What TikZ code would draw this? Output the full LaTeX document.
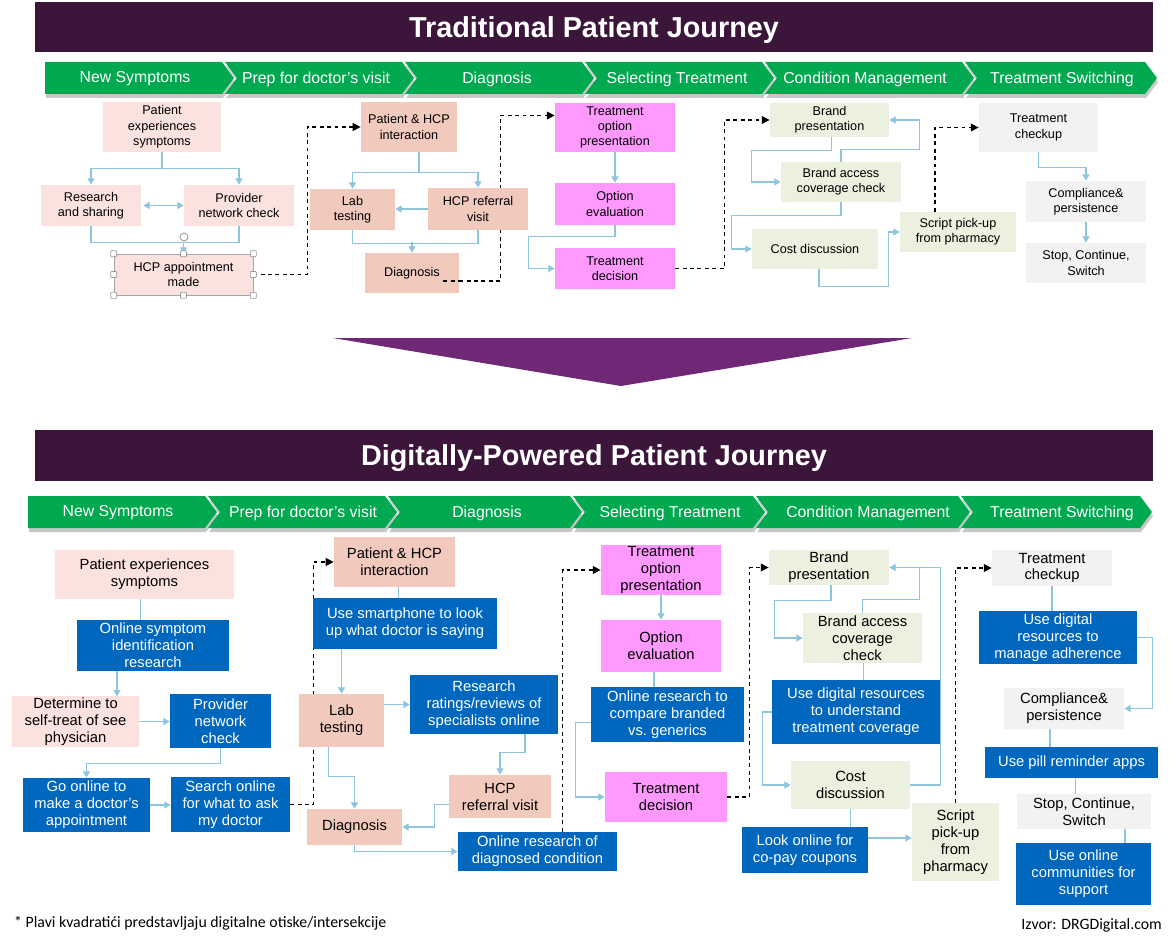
\documentclass[tikz,border=0pt]{standalone}
\usepackage{fontspec}
\setmainfont{Liberation Sans}
\newfontfamily\notefont{Carlito}
\usetikzlibrary{arrows.meta,calc,backgrounds}
\definecolor{barpurple}{RGB}{60,22,58}
\definecolor{arrowpurple}{RGB}{112,40,118}
\definecolor{stepgreen}{RGB}{0,168,80}
\definecolor{pinklight}{RGB}{251,226,223}
\definecolor{salmon}{RGB}{241,201,189}
\definecolor{magentabox}{RGB}{255,153,255}
\definecolor{greenlight}{RGB}{235,241,222}
\definecolor{graylight}{RGB}{242,242,242}
\definecolor{digiblue}{RGB}{0,103,190}
\definecolor{linkblue}{RGB}{142,196,222}
\newcommand{\pxu}{0.02cm}
\begin{document}
\begin{tikzpicture}[x=0.02cm, y=-0.02cm,
    box/.style={rectangle, inner sep=0pt, align=center, text=black},
    tsize/.style={font=\fontsize{7.2}{8.7}\selectfont},
    bsize/.style={font=\fontsize{8.4}{9.6}\selectfont},
    dims/.style 2 args={minimum width=#1*\pxu, minimum height=#2*\pxu},
    pinkbox/.style={box, fill=pinklight},
    salmonbox/.style={box, fill=salmon},
    magbox/.style={box, fill=magentabox},
    greenbox/.style={box, fill=greenlight},
    graybox/.style={box, fill=graylight},
    bluebox/.style={box, fill=digiblue, text=white},
    steplab/.style={text=white, font=\fontsize{9}{10}\selectfont},
    titletext/.style={text=white, font=\fontsize{16.4}{18}\selectfont\bfseries},
    notetext/.style={font=\notefont\fontsize{9}{10.8}\selectfont},
    link/.style={draw=linkblue, line width=0.75pt},
    conn/.style={link, -{Triangle[width=4pt,length=3.6pt]}},
    biconn/.style={link, {Triangle[width=4pt,length=3.6pt]}-{Triangle[width=4pt,length=3.6pt]}},
    jump/.style={draw=black, line width=0.7pt, dash pattern=on 2.2pt off 2pt, -{Triangle[width=4.5pt,length=4.5pt]}}]
    \useasboundingbox (0,0) rectangle (1176,939);
    % title bars and the arrow between them
    \fill[barpurple] (35,2) rectangle (1153,52);
    \node[titletext] (title1) at (594,30) {Traditional Patient Journey};
    \fill[arrowpurple] (333,338) -- (912,338) -- (621,386) -- cycle;
    \fill[barpurple] (35,430) rectangle (1153,481);
    \node[titletext] (title2) at (594,458) {Digitally-Powered Patient Journey};
    % phase chevrons
    \foreach \xa/\xb/\dn/\lx/\lab [count=\i] in {45/222/0/135/New Symptoms, 225/402/12/316/Prep for doctor's visit, 405/582/12/497/Diagnosis, 585/762/12/677/Selecting Treatment, 765/962/12/865/Condition Management, 965/1145/12/1062/Treatment Switching}{
        \fill[black, opacity=0.22, shift={(1,4)}] (\xa,62) -- (\xb,62) -- (\xb+12,78) -- (\xb,94) -- (\xa,94) -- (\xa+\dn,78) -- cycle;
        \fill[stepgreen] (\xa,62) -- (\xb,62) -- (\xb+12,78) -- (\xb,94) -- (\xa,94) -- (\xa+\dn,78) -- cycle;
        \node[steplab] (ph1-\i) at (\lx,79) {\lab};
    }
    \foreach \xa/\xb/\dn/\lx/\lab [count=\i] in {28/205/0/118/New Symptoms, 208/385/12/303/Prep for doctor's visit, 388/570/12/487/Diagnosis, 573/753/12/670/Selecting Treatment, 756/958/12/868/Condition Management, 961/1140/12/1062/Treatment Switching}{
        \fill[black, opacity=0.22, shift={(1,4)}] (\xa,496) -- (\xb,496) -- (\xb+12,512) -- (\xb,528) -- (\xa,528) -- (\xa+\dn,512) -- cycle;
        \fill[stepgreen] (\xa,496) -- (\xb,496) -- (\xb+12,512) -- (\xb,528) -- (\xa,528) -- (\xa+\dn,512) -- cycle;
        \node[steplab] (ph2-\i) at (\lx,513) {\lab};
    }
    % traditional journey
    \node[pinkbox, tsize, dims={118}{50}] (t1) at (162,127) {Patient\\experiences\\symptoms};
    \node[pinkbox, tsize, dims={100}{41}] (t2) at (91,205.5) {Research\\and sharing};
    \node[pinkbox, tsize, dims={110}{41}] (t3) at (239,205.5) {Provider\\network check};
    \node[pinkbox, tsize, dims={139}{41}, draw=gray!70, line width=0.4pt] (t4) at (183.5,274.5) {HCP appointment\\made};
    \node[salmonbox, tsize, dims={96}{50}] (t5) at (409,127) {Patient \& HCP\\interaction};
    \node[salmonbox, tsize, dims={85}{41}] (t6) at (352.5,209.5) {Lab\\testing};
    \node[salmonbox, tsize, dims={100}{42}] (t7) at (478,209) {HCP referral\\visit};
    \node[salmonbox, tsize, dims={94}{40}] (t8) at (412,273) {Diagnosis};
    \node[magbox, tsize, dims={120}{49}] (t9) at (615,127.5) {Treatment\\option\\presentation};
    \node[magbox, tsize, dims={120}{42}] (t10) at (615,204) {Option\\evaluation};
    \node[magbox, tsize, dims={120}{41}] (t11) at (615,268.5) {Treatment\\decision};
    \node[greenbox, tsize, dims={119}{34}] (t12) at (829.5,120) {Brand\\presentation};
    \node[greenbox, tsize, dims={120}{40}] (t13) at (841,182) {Brand access\\coverage check};
    \node[greenbox, tsize, dims={126}{40}] (t14) at (815,249) {Cost discussion};
    \node[greenbox, tsize, dims={116}{40}] (t15) at (958,232) {Script pick-up\\from pharmacy};
    \node[graybox, tsize, dims={119}{49}] (t16) at (1038.5,127.5) {Treatment\\checkup};
    \node[graybox, tsize, dims={120}{41}] (t17) at (1086,201.5) {Compliance\&\\persistence};
    \node[graybox, tsize, dims={120}{40}] (t18) at (1086,263) {Stop, Continue,\\Switch};
    % selection handles on t4
    \foreach \a in {north west,north,north east,west,east,south west,south,south east}
        \filldraw[fill=white, draw=gray!80, line width=0.4pt, rounded corners=0.5pt] (t4.\a) ++(-3,-3) rectangle ++(6,6);
    \draw[gray!80, line width=0.5pt] (184,237) circle (0.08cm);
    \draw[black, line width=0.7pt, dash pattern=on 2.2pt off 2pt] (t8.east) ++(-16,8) -- ++(16,0);
    % digitally-powered journey
    \node[pinkbox, bsize, dims={179}{49}] (b1) at (144.5,574.5) {Patient experiences\\symptoms};
    \node[bluebox, bsize, dims={152}{51}] (b2) at (153,645.5) {Online symptom\\identification\\research};
    \node[pinkbox, bsize, dims={127}{51}] (b3) at (75.5,721.5) {Determine to\\self-treat of see\\physician};
    \node[bluebox, bsize, dims={101}{54}] (b4) at (220.5,721) {Provider\\network\\check};
    \node[bluebox, bsize, dims={127}{54}] (b5) at (86.5,805) {Go online to\\make a doctor's\\appointment};
    \node[bluebox, bsize, dims={119}{55}] (b6) at (230.5,804.5) {Search online\\for what to ask\\my doctor};
    \node[salmonbox, bsize, dims={121}{50}] (b7) at (394.5,562) {Patient \& HCP\\interaction};
    \node[bluebox, bsize, dims={184}{51}] (b8) at (405,623.5) {Use smartphone to look\\up what doctor is saying};
    \node[salmonbox, bsize, dims={85}{53}] (b9) at (341.5,720.5) {Lab\\testing};
    \node[bluebox, bsize, dims={148}{59}] (b10) at (484,704.5) {Research\\ratings/reviews of\\specialists online};
    \node[salmonbox, bsize, dims={102}{43}] (b11) at (500,796.5) {HCP\\referral visit};
    \node[salmonbox, bsize, dims={95}{36}] (b12) at (354.5,827) {Diagnosis};
    \node[bluebox, bsize, dims={159}{39}] (b13) at (537.5,851.5) {Online research of\\diagnosed condition};
    \node[magbox, bsize, dims={120}{50}] (b14) at (661,570) {Treatment\\option\\presentation};
    \node[magbox, bsize, dims={120}{52}] (b15) at (661,646) {Option\\evaluation};
    \node[bluebox, bsize, dims={153}{55}] (b16) at (667.5,714.5) {Online research to\\compare branded\\vs.\ generics};
    \node[magbox, bsize, dims={122}{50}] (b17) at (666,797) {Treatment\\decision};
    \node[greenbox, bsize, dims={120}{35}] (b18) at (829,567.5) {Brand\\presentation};
    \node[greenbox, bsize, dims={119}{50}] (b19) at (862.5,638) {Brand access\\coverage\\check};
    \node[bluebox, bsize, dims={168}{64}] (b20) at (856,712) {Use digital resources\\to understand\\treatment coverage};
    \node[greenbox, bsize, dims={119}{48}] (b21) at (850.5,785) {Cost\\discussion};
    \node[bluebox, bsize, dims={126}{46}] (b22) at (805,850) {Look online for\\co-pay coupons};
    \node[greenbox, bsize, dims={87}{78}] (b23) at (955.5,842) {Script\\pick-up\\from\\pharmacy};
    \node[graybox, bsize, dims={120}{36}] (b24) at (1052,568) {Treatment\\checkup};
    \node[bluebox, bsize, dims={158}{53}] (b25) at (1058,637.5) {Use digital\\resources to\\manage adherence};
    \node[graybox, bsize, dims={120}{41}] (b26) at (1064,708.5) {Compliance\&\\persistence};
    \node[bluebox, bsize, dims={173}{31}] (b27) at (1071.5,762.5) {Use pill reminder apps};
    \node[graybox, bsize, dims={134}{35}] (b28) at (1084,811.5) {Stop, Continue,\\Switch};
    \node[bluebox, bsize, dims={135}{62}] (b29) at (1083.5,874) {Use online\\communities for\\support};
    % footer
    \node[anchor=west, notetext] (note) at (8,923) {* Plavi kvadratići predstavljaju digitalne otiske/intersekcije};
    \node[anchor=east, notetext] (source) at (1168,925) {Izvor: DRGDigital.com};
    % connectors, behind the boxes
    \begin{scope}[on background layer]
        \draw[conn] (t1.south) -- ++(0,16) -| (t2.north);
        \draw[conn] (t1.south) -- ++(0,16) -| (t3.north);
        \draw[biconn] (t2.east) ++(2,0) -- (t3.west);
        \draw[link] (t2.south) -- ++(0,16) -| (t3.south);
        \draw[conn] (t4.north) ++(0,-12) -- (t4.north);
        \draw[jump] (t4.east) -- ++(54,0) |- (t5.west);
        \draw[conn] (t5.south) ++(10,0) -- ++(0,20) -| (t6.north);
        \draw[conn] (t5.south) ++(10,0) -- ++(0,20) -| (t7.north);
        \draw[conn] (t7.west) -- (t7.west -| t6.east);
        \draw[link] (t6.south) -- ++(0,13) -| (t7.south);
        \draw[conn] (t8.north) ++(0,-11) -- (t8.north);
        \draw[jump] (t8.east) ++(0,8) -- ++(41,0) |- ($(t9.west)+(0,-12)$);
        \draw[conn] (t9.south) -- (t10.north);
        \draw[conn] (t10.south) -- ++(0,11) -| ($(t11.west)+(-26,0)$) -- (t11.west);
        \draw[jump] (t11.east) -- ++(49,0) |- (t12.west);
        \draw[conn] (t12.south) ++(2,0) -- ++(0,13) -| ($(t13.west)+(-29,0)$) -- (t13.west);
        \draw[conn] (t13.north) -- ++(0,-12) -| ($(t12.east)+(30,0)$) -- (t12.east);
        \draw[conn] (t13.south) -- ++(0,13) -| ($(t14.west)+(-20,0)$) -- (t14.west);
        \draw[conn] (t14.south) ++(4,0) -- ++(0,17) -| ($(t15.west)+(-11,0)$) -- (t15.west);
        \draw[jump] (t15.north) ++(-23,0) |- (t16.west);
        \draw[conn] (t16.south) -- ++(0,15) -| (t17.north);
        \draw[conn] (t17.south) -- (t18.north);
        %
        \draw[link] (b1.south) ++(-4,0) -- ++(0,21);
        \draw[conn] (b2.south) ++(-36,0) -- ++(0,25);
        \draw[conn] (b3.east) -- (b3.east -| b4.west);
        \draw[conn] (b4.south) -- ++(0,15) -| (b5.north);
        \draw[conn] (b5.east) -- (b5.east -| b6.west);
        \draw[jump] (b6.east) -- ++(23,0) |- (b7.west);
        \draw[link] (b7.south) ++(4,0) -- ++(0,11);
        \draw[conn] (b9.north |- b8.south) -- (b9.north);
        \draw[conn] (b9.east |- b10.west) -- (b10.west);
        \draw[conn] (b10.south) ++(41,0) -- ++(0,18) -| (b11.north);
        \draw[conn] (b11.west) ++(0,8) -- ++(-14,0) |- (b12.east);
        \draw[conn] (b9.south) ++(-13,0) -- ++(0,29) -| (b12.north);
        \draw[conn] (b12.south) -- ++(0,7) |- (b13.west);
        \draw[jump] (b13.north) ++(25,0) |- (b14.west);
        \draw[conn] (b14.south) -- (b15.north);
        \draw[link] (b15.south) ++(-7,0) -- ++(0,15);
        \draw[conn] (b16.west) ++(0,8) -- ++(-15,0) |- (b17.west);
        \draw[jump] (b17.east) -- ++(22,0) |- (b18.west);
        \draw[conn] (b18.south) ++(2,0) -- ++(0,15) -| ($(b19.west)+(-28,0)$) -- (b19.west);
        \draw[conn] (b19.north) -- ++(0,-13) -| ($(b18.east)+(30,0)$) -- (b18.east);
        \draw[link] (b21.east) -| ($(b18.east)+(51,0)$) -- ($(b18.east)+(30,0)$);
        \draw[link] (b19.south) ++(1,0) -- ++(0,17);
        \draw[conn] (b20.west) -- ++(-9,0) |- (b21.west);
        \draw[link] (b21.south) -- ++(0,18);
        \draw[conn] (b22.east) ++(0,-12) coordinate (cp) -- (cp -| b23.west);
        \draw[jump] (b23.north) |- (b24.west);
        \draw[link] (b24.south) -- ++(0,25);
        \draw[conn] (b25.east) -- ++(15,0) |- (b26.east);
        \draw[link] (b26.south) ++(-14,0) -- ++(0,18);
        \draw[link] (b27.south) ++(4,0) -- ++(0,16);
        \draw[link] (b28.south) ++(41,0) -- ++(0,14);
    \end{scope}
\end{tikzpicture}
\end{document}
